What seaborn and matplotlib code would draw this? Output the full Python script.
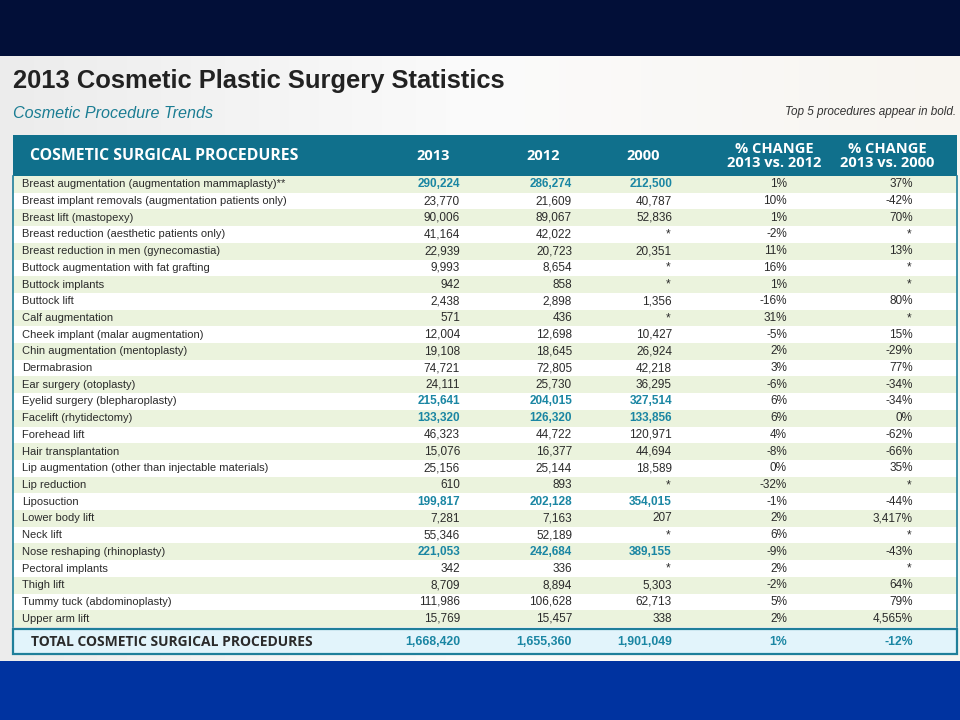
import matplotlib.pyplot as plt
import numpy as np
import pandas as pd
import seaborn as sns
from matplotlib.colors import LinearSegmentedColormap, ListedColormap
from matplotlib.patches import Rectangle


# Dados da tabela (None = "*", sem dado em 2000).
procedimentos = [
    "Breast augmentation (augmentation mammaplasty)**",
    "Breast implant removals (augmentation patients only)",
    "Breast lift (mastopexy)",
    "Breast reduction (aesthetic patients only)",
    "Breast reduction in men (gynecomastia)",
    "Buttock augmentation with fat grafting",
    "Buttock implants",
    "Buttock lift",
    "Calf augmentation",
    "Cheek implant (malar augmentation)",
    "Chin augmentation (mentoplasty)",
    "Dermabrasion",
    "Ear surgery (otoplasty)",
    "Eyelid surgery (blepharoplasty)",
    "Facelift (rhytidectomy)",
    "Forehead lift",
    "Hair transplantation",
    "Lip augmentation (other than injectable materials)",
    "Lip reduction",
    "Liposuction",
    "Lower body lift",
    "Neck lift",
    "Nose reshaping (rhinoplasty)",
    "Pectoral implants",
    "Thigh lift",
    "Tummy tuck (abdominoplasty)",
    "Upper arm lift",
]
valores_2013 = [290224, 23770, 90006, 41164, 22939, 9993, 942, 2438, 571, 12004,
                19108, 74721, 24111, 215641, 133320, 46323, 15076, 25156, 610,
                199817, 7281, 55346, 221053, 342, 8709, 111986, 15769]
valores_2012 = [286274, 21609, 89067, 42022, 20723, 8654, 858, 2898, 436, 12698,
                18645, 72805, 25730, 204015, 126320, 44722, 16377, 25144, 893,
                202128, 7163, 52189, 242684, 336, 8894, 106628, 15457]
valores_2000 = [212500, 40787, 52836, None, 20351, None, None, 1356, None, 10427,
                26924, 42218, 36295, 327514, 133856, 120971, 44694, 18589, None,
                354015, 207, None, 389155, None, 5303, 62713, 338]
var_13_12 = [1, 10, 1, -2, 11, 16, 1, -16, 31, -5, 2, 3, -6, 6, 6, 4, -8, 0,
             -32, -1, 2, 6, -9, 2, -2, 5, 2]
var_13_00 = [37, -42, 70, None, 13, None, None, 80, None, 15, -29, 77, -34, -34,
             0, -62, -66, 35, None, -44, 3417, None, -43, None, 64, 79, 4565]
top5 = ["Breast augmentation (augmentation mammaplasty)**",
        "Eyelid surgery (blepharoplasty)", "Facelift (rhytidectomy)",
        "Liposuction", "Nose reshaping (rhinoplasty)"]

total_valores = [1668420, 1655360, 1901049]
total_var = [1, -12]

cabecalho = ["2013", "2012", "2000",
             "% CHANGE\n2013 vs. 2012", "% CHANGE\n2013 vs. 2000"]

# Cores e fontes.
AZUL_TOPO = "#020f38"
AZUL_BASE = "#0033a0"
TEAL = "#10708c"
TEAL_TEXTO = "#1a86a3"
VERDE = "#ebf3dd"
TEXTO = "#2b2b2b"
CORPO = ["Liberation Sans", "DejaVu Sans"]
HEAD = ["Open Sans", "DejaVu Sans"]

W, H = 960, 720
X0, X1 = 13, 957
Y_CORPO, Y_FIM = 176, 627
# Bordas direitas (px) das colunas numéricas e centros dos cabeçalhos.
BORDAS = [460, 572, 672, 787, 913]
CENTROS = [433, 543, 643, 774, 887]


def fmt_num(v):
    return "*" if v is None else f"{v:,}"


def fmt_pct(v):
    return "*" if v is None else f"{v:,}%"


def main():
    sns.set_theme(style="white")
    plt.rcParams["font.family"] = CORPO

    fig = plt.figure(figsize=(W / 100, H / 100), dpi=100)

    # Fundo do slide em coordenadas de pixel.
    fundo = fig.add_axes([0, 0, 1, 1])
    fundo.set_xlim(0, W)
    fundo.set_ylim(H, 0)
    fundo.axis("off")
    fundo.add_patch(Rectangle((0, 0), W, 56, color=AZUL_TOPO, lw=0))
    grad = np.linspace(0, 1, 256).reshape(1, -1)
    cmap_fundo = LinearSegmentedColormap.from_list("f", ["#ececec", "#fbfbfb", "#f8f5f0"])
    fundo.imshow(grad, cmap=cmap_fundo, extent=[0, W, 661, 56], aspect="auto", zorder=0)
    fundo.add_patch(Rectangle((0, 661), W, H - 661, color=AZUL_BASE, lw=0))

    fundo.text(13, 88, "2013 Cosmetic Plastic Surgery Statistics", fontsize=18.4,
               fontweight="bold", color="#222222", va="baseline")
    fundo.text(13, 118, "Cosmetic Procedure Trends", fontsize=11.6, style="italic",
               color="#1b7d93", va="baseline")
    fundo.text(956, 115, "Top 5 procedures appear in bold.", fontsize=8.5,
               style="italic", color="#333333", ha="right", va="baseline")

    # Faixa do cabeçalho.
    fundo.add_patch(Rectangle((X0, 135), X1 - X0, Y_CORPO - 135, color=TEAL, lw=0))
    fundo.text(30, 156, "COSMETIC SURGICAL PROCEDURES", fontsize=11.4,
               fontweight="bold", color="white", va="center", family=HEAD)
    for rotulo, cx in zip(cabecalho, CENTROS):
        fundo.text(cx, 156, rotulo, fontsize=10.5, fontweight="bold",
                   color="white", ha="center", va="center", family=HEAD,
                   linespacing=0.95)

    # Linha de total.
    fundo.add_patch(Rectangle((X0, 629), X1 - X0, 25, facecolor="#e2f4fb",
                              edgecolor="#1f7f9a", lw=1.6))
    fundo.text(31, 642, "TOTAL COSMETIC SURGICAL PROCEDURES", fontsize=10,
               fontweight="bold", color=TEXTO, va="center", family=HEAD)
    textos_total = [fmt_num(v) for v in total_valores] + [fmt_pct(v) for v in total_var]
    for txt, bx in zip(textos_total, BORDAS):
        fundo.text(bx, 642, txt, fontsize=8.8, fontweight="bold", color=TEAL_TEXTO,
                   ha="right", va="center")

    # Corpo da tabela: faixas alternadas via heatmap.
    n = len(procedimentos)
    faixas = pd.DataFrame({"faixa": [i % 2 for i in range(n)]}, index=procedimentos)
    ax = fig.add_axes([X0 / W, 1 - Y_FIM / H, (X1 - X0) / W, (Y_FIM - Y_CORPO) / H])
    sns.heatmap(faixas, cmap=ListedColormap([VERDE, "#ffffff"]), vmin=0, vmax=1,
                cbar=False, xticklabels=False, yticklabels=False, ax=ax)
    ax.set_xlabel("")
    ax.set_ylabel("")
    for lado in ["top", "bottom"]:
        ax.spines[lado].set_visible(False)
    for lado in ["left", "right"]:
        ax.spines[lado].set_visible(True)
        ax.spines[lado].set_color("#1f7f9a")
        ax.spines[lado].set_linewidth(1.2)

    def fx(px):
        return (px - X0) / (X1 - X0)

    for i, nome in enumerate(procedimentos):
        y = i + 0.5
        destaque = nome in top5
        ax.text(fx(22), y, nome, fontsize=8.0, color=TEXTO, va="center")
        colunas = [fmt_num(valores_2013[i]), fmt_num(valores_2012[i]),
                   fmt_num(valores_2000[i]), fmt_pct(var_13_12[i]),
                   fmt_pct(var_13_00[i])]
        for j, (txt, bx) in enumerate(zip(colunas, BORDAS)):
            negrito = destaque and j < 3
            ax.text(fx(bx - (2 if txt == "*" else 0)), y, txt, fontsize=8.5,
                    ha="right", va="center",
                    color=TEAL_TEXTO if negrito else TEXTO,
                    fontweight="bold" if negrito else "normal")

    fig.savefig("out.png", dpi=100)
    plt.close(fig)


if __name__ == "__main__":
    main()
